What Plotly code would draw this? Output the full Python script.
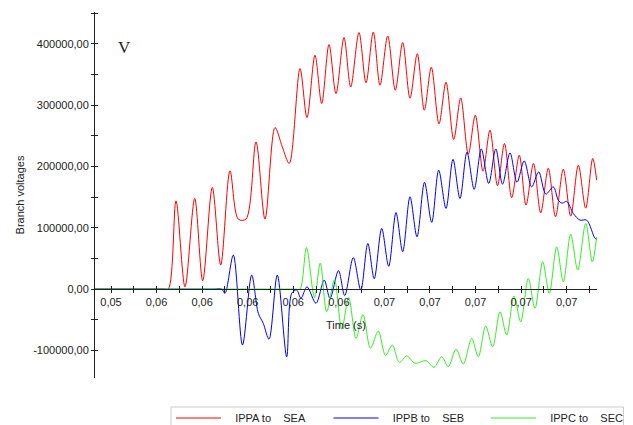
import plotly.graph_objects as go

# ---- data (time in s, voltage in V) ----
red_t = [0.053298, 0.0540, 0.0545, 0.0550, 0.0555, 0.0560, 0.0563,
         0.056515, 0.056853, 0.057248, 0.057674, 0.058025, 0.058446, 0.058815, 0.059223, 0.059587,
         0.059925, 0.060364, 0.060759, 0.061198, 0.061518, 0.061825, 0.062295, 0.062602, 0.062953, 0.063247,
         0.063568, 0.063875, 0.064226, 0.064520, 0.064884, 0.065192, 0.065512, 0.065806, 0.066144, 0.066478,
         0.066802, 0.067123, 0.067443, 0.067750, 0.068058, 0.068396, 0.068703, 0.069041, 0.069348, 0.069682,
         0.069989, 0.070327, 0.070634, 0.070963, 0.071270, 0.071586, 0.071920, 0.072214, 0.072543, 0.072859,
         0.073193, 0.073509, 0.073851, 0.074176, 0.074510, 0.074834, 0.075141, 0.075317]
red_v = [0, 0, 0, 0, 0, 0, 0,
         0, 143800, 3700, 147700, 13500, 165700, 39100, 192700, 114000,
         114000, 239900, 114000, 263400, 231800, 204800, 359500, 279700, 381200, 302500,
         398600, 318800, 410000, 329500, 418200, 336400, 419100, 332300, 412600, 324200,
         401900, 311100, 383600, 291600, 361600, 269300, 337200, 243900, 311600, 219900,
         283400, 192200, 259000, 168600, 237300, 149000, 218300, 136800, 204800, 124300,
         197100, 117800, 195500, 118900, 202000, 131900, 212900, 177600]

blue_t = [0.053298, 0.0540, 0.0545, 0.0550, 0.0555, 0.0560, 0.0565, 0.0570, 0.0575, 0.0580, 0.0585,
          0.058859, 0.059003, 0.059368, 0.059771, 0.060175, 0.060465, 0.060684, 0.060935, 0.061299,
          0.061711, 0.061931, 0.062150, 0.062339, 0.062602, 0.062997, 0.063357, 0.063612, 0.063985, 0.064257,
          0.064634, 0.064963, 0.065271, 0.065552, 0.065881, 0.066188, 0.066508, 0.066802, 0.067123, 0.067430,
          0.067759, 0.068075, 0.068382, 0.068703, 0.069010, 0.069317, 0.069624, 0.069940, 0.070252, 0.070577,
          0.070889, 0.071183, 0.071512, 0.071819, 0.072135, 0.072464, 0.072771, 0.073083, 0.073412, 0.073631,
          0.073800, 0.074000, 0.074290, 0.074584, 0.074878, 0.075242, 0.075317]
blue_v = [0, 0, 0, 0, 0, 0, 0, 0, 0, 0, 0,
          0, -7000, 55400, -91200, 22800, -39600, -55900, -81800, 22800,
          -110300, -7000, -1600, -15100, 3700, -23300, 14700, -15100, 30100, -10600,
          51300, -1600, 74400, 16800, 98900, 37100, 124600, 60800, 150400, 85200,
          174000, 108700, 193900, 131500, 211400, 147700, 223200, 162600, 228500, 172200,
          228500, 171000, 222000, 174000, 209000, 166600, 191100, 154800, 166600, 145000,
          140000, 143000, 123300, 112400, 112400, 82600, 81400]

green_t = [0.053298, 0.0540, 0.0545, 0.0550, 0.0555, 0.0560, 0.0565, 0.0570, 0.0575, 0.0580, 0.0585,
           0.0590, 0.0595, 0.0600, 0.0605, 0.0610, 0.0615, 0.0619, 0.0621,
           0.062295, 0.062580, 0.062931, 0.063186, 0.063467, 0.063809, 0.064125, 0.064432, 0.064753,
           0.065060, 0.065389, 0.065732, 0.066048, 0.066346, 0.066653, 0.066978, 0.067342, 0.067825, 0.068176,
           0.068514, 0.068804, 0.069142, 0.069462, 0.069831, 0.070120, 0.070445, 0.070752, 0.071073, 0.071367,
           0.071687, 0.071981, 0.072315, 0.072609, 0.072947, 0.073236, 0.073561, 0.073851, 0.074176, 0.074483,
           0.074834, 0.075124, 0.075317]
green_v = [0, 0, 0, 0, 0, 0, 0, 0, 0, 0, 0,
           0, 0, 0, 0, 0, 0, 0, 0,
           0, 67600, -14000, 42400, -37000, 15100, -65200, -13800, -80300,
           -41500, -96600, -68400, -108300, -91200, -119700, -109100, -121000, -116800, -127600,
           -110300, -126600, -98200, -122200, -80300, -110300, -60300, -94000, -37000, -74900,
           -11400, -53300, 17400, -31400, 44500, -7000, 68900, 11900, 89600, 31000,
           107000, 44500, 85200]

series_names = ["\u00a0\u00a0\u00a0IPPA to\u00a0\u00a0\u00a0 SEA",
                "\u00a0\u00a0\u00a0IPPB to\u00a0\u00a0\u00a0 SEB",
                "\u00a0\u00a0\u00a0IPPC to\u00a0\u00a0\u00a0 SEC"]
series_colors = ["#ff0000", "#0000ff", "#33ee22"]

x_tickvals = [0.054, 0.055, 0.056, 0.057, 0.058, 0.059, 0.060, 0.061, 0.062, 0.063, 0.064,
              0.065, 0.066, 0.067, 0.068, 0.069, 0.070, 0.071, 0.072, 0.073, 0.074, 0.075]
x_ticktext = ["0,05", "", "0,06", "", "0,06", "", "0,06", "", "0,06", "", "0,06",
              "", "0,07", "", "0,07", "", "0,07", "", "0,07", "", "0,07", ""]
y_tickvals = [-100000, -50000, 0, 50000, 100000, 150000, 200000, 250000, 300000, 350000, 400000, 450000]
y_ticktext = ["-100000,00", "", "0,00", "", "100000,00", "", "200000,00", "", "300000,00", "", "400000,00", ""]

x_range = [0.053298, 0.07533]
y_range = [-145000, 451700]

FONT = "Arial, 'Liberation Sans', sans-serif"
AX = "#222222"

# The page body has an 8px default margin; the figure is placed to compensate,
# and is a bit taller than the window so the legend never pushes the margins.
W, H = 625, 442
ML, MR, MT, MB = 87, 36, 4, 0
plot_h = H - MT - MB


def px_x(sx):
    return (sx - 8 - ML) / (W - ML - MR)


def px_y(sy):
    return (H - MB - (sy - 8)) / plot_h


ydom0 = px_y(378)
xpos = ydom0 + (0 - y_range[0]) / (y_range[1] - y_range[0]) * (1 - ydom0)

fig = go.Figure()
legends = ["legend", "legend2", "legend3"]
for t, v, nm, col, lg in zip([red_t, blue_t, green_t], [red_v, blue_v, green_v],
                             series_names, series_colors, legends):
    fig.add_trace(go.Scatter(x=t, y=v, mode="lines", name=nm, legend=lg,
                             line=dict(color=col, width=1, shape="spline", smoothing=0.9)))

# empty helper trace carrying the overlay axes used for crossing tick marks
fig.add_trace(go.Scatter(x=[None], y=[None], xaxis="x2", yaxis="y2", showlegend=False, hoverinfo="skip"))

fig.update_layout(
    width=W, height=H,
    margin=dict(l=ML, r=MR, t=MT, b=MB),
    paper_bgcolor="white", plot_bgcolor="white",
    separators=",.",
    font=dict(family=FONT, size=11, color="#222222"),
    xaxis=dict(range=x_range, anchor="free", position=xpos, showline=True, linecolor=AX, linewidth=1,
               ticks="outside", ticklen=3, tickcolor=AX, tickvals=x_tickvals, ticktext=x_ticktext,
               showgrid=False, zeroline=False, automargin=False,
               title=dict(text="Time (s)", standoff=14, font=dict(size=11))),
    xaxis2=dict(range=x_range, overlaying="x", matches="x", anchor="free", position=xpos,
                ticks="inside", ticklen=3, tickcolor=AX, tickvals=x_tickvals, showticklabels=False,
                showline=False, showgrid=False, zeroline=False),
    yaxis=dict(range=y_range, domain=[ydom0, 1], showline=True, linecolor=AX, linewidth=1,
               ticks="outside", ticklen=3, automargin=False,
               tickcolor=AX, tickvals=y_tickvals, ticktext=y_ticktext, showgrid=False, zeroline=False,
               title=dict(text="Branch voltages", standoff=6, font=dict(size=11))),
    yaxis2=dict(range=y_range, domain=[ydom0, 1], overlaying="y", matches="y", anchor="x2", side="left",
                ticks="inside", ticklen=3, tickcolor=AX, tickvals=y_tickvals, showticklabels=False,
                showline=False, showgrid=False, zeroline=False),
    annotations=[dict(text="V", xref="paper", yref="paper", x=px_x(124), y=px_y(47.5),
                      xanchor="center", yanchor="middle", showarrow=False,
                      font=dict(family="'Liberation Serif', 'DejaVu Serif', serif", size=17, color="#222222"))],
    shapes=[dict(type="rect", xref="paper", yref="paper", x0=px_x(171), x1=px_x(623.5),
                 y0=px_y(445), y1=px_y(407), line=dict(color="#cccccc", width=1),
                 fillcolor="rgba(0,0,0,0)", layer="below")],
)
leg_x = [171, 328.5, 486]
for lg, lx in zip(legends, leg_x):
    fig.update_layout({lg: dict(x=px_x(lx), y=px_y(403.5), xanchor="left", yanchor="top",
                                bgcolor="rgba(0,0,0,0)", borderwidth=0, itemwidth=45,
                                font=dict(family=FONT, size=11, color="#222222"))})

fig.write_html("out.html")
